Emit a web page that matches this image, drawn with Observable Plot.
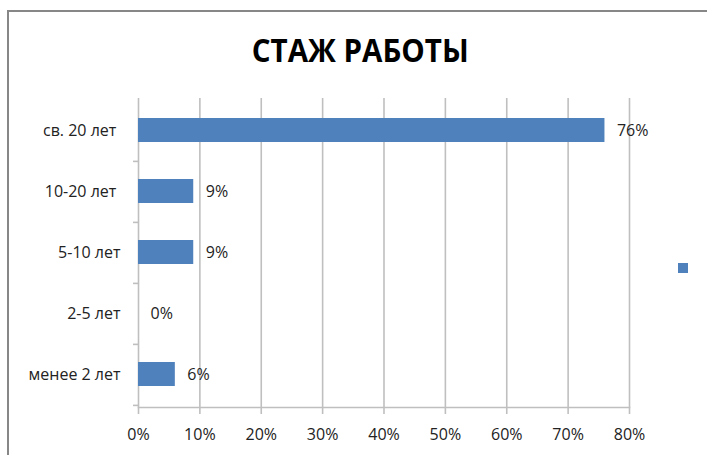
<!DOCTYPE html>
<html><head><meta charset="utf-8">
<script src="https://cdn.jsdelivr.net/npm/d3@7"></script>
<script src="https://cdn.jsdelivr.net/npm/@observablehq/plot@0.6"></script>
<style>
html,body{margin:0;padding:0;background:#fff;}
#wrap{position:relative;width:707px;height:455px;overflow:hidden;font-family:"Open Sans",sans-serif;}
#frame{position:absolute;left:7px;top:10px;width:710px;height:460px;border-top:2px solid #878787;border-left:2px solid #878787;box-sizing:border-box;}
#title{position:absolute;left:0;width:721px;top:33px;text-align:center;font-weight:700;font-size:33px;line-height:1;color:#000;white-space:nowrap;}
#title span{display:inline-block;transform-origin:center;}
#legend{position:absolute;left:678px;top:263px;width:10px;height:10px;background:#4F81BD;}
#chart{position:absolute;left:0;top:0;}
</style></head>
<body><div id="wrap"><div id="chart"></div><div id="frame"></div><div id="title"><span>СТАЖ РАБОТЫ</span></div><div id="legend"></div></div>
<script>
const title = "СТАЖ РАБОТЫ";
const categories = ["св. 20 лет", "10-20 лет", "5-10 лет", "2-5 лет", "менее 2 лет"];
const yTickLabels = ["св. 20 лет\u00a0", "10-20 лет\u00a0", "5-10 лет", "2-5 лет", "менее 2 лет"];
const values = [76, 9, 9, 0, 6];
const xTicks = [0, 10, 20, 30, 40, 50, 60, 70, 80];
const xTickLabels = ["0%", "10%", "20%", "30%", "40%", "50%", "60%", "70%", "80%"];
const barColor = "#4F81BD";
const gridColor = "#BFBFBF";

const data = categories.map((c, i) => ({category: c, value: values[i]}));
const labelOf = new Map(categories.map((c, i) => [c, yTickLabels[i]]));
const xLabelOf = new Map(xTicks.map((t, i) => [t, xTickLabels[i]]));

const H = 455, mT = 98, mB = 48;
const step = (H - mT - mB) / categories.length;

const chart = Plot.plot({
  width: 707,
  height: H,
  marginLeft: 138,
  marginRight: 78,
  marginTop: mT,
  marginBottom: mB,
  style: {fontFamily: "'Open Sans', sans-serif", fontSize: "16px", color: "#222", background: "transparent", overflow: "visible"},
  x: {domain: [0, 80], label: null},
  y: {domain: categories, paddingInner: 0.6, paddingOuter: 0.3, label: null},
  marks: [
    Plot.gridX(xTicks, {stroke: gridColor, strokeOpacity: 1, strokeWidth: 1.6}),
    Plot.axisX(xTicks, {tickSize: 7, tickFormat: () => "", label: null, stroke: gridColor, strokeOpacity: 1, strokeWidth: 1.6}),
    Plot.axisX(xTicks, {tickSize: 0, tickPadding: 21, label: null, tickFormat: d => xLabelOf.get(d), fill: "#222"}),
    Plot.axisY({tickSize: 5, tickFormat: () => "", label: null, dy: step / 2, stroke: gridColor, strokeOpacity: 1, strokeWidth: 1.6}),
    Plot.axisY({tickSize: 0, tickPadding: 18, label: null, tickFormat: d => labelOf.get(d), fill: "#222"}),
    Plot.frame({anchor: "bottom", stroke: gridColor, strokeOpacity: 1, strokeWidth: 1.6}),
    Plot.barX(data, {x: "value", y: "category", fill: barColor}),
    Plot.text(data, {x: "value", y: "category", text: d => d.value + "%", dx: 12, textAnchor: "start", fill: "#222"})
  ]
});
document.getElementById("chart").appendChild(chart);
document.querySelector("#title span").textContent = title;
const sp = document.querySelector("#title span");
const w = sp.getBoundingClientRect().width;
sp.style.transform = `scaleX(${217 / w})`;
</script>
</body></html>
